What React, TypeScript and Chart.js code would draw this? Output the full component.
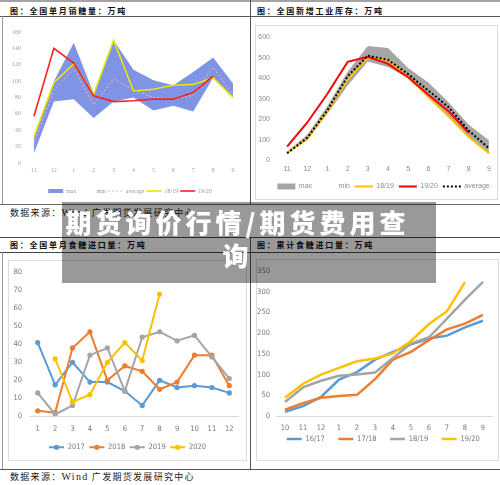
import React, { useEffect, useRef } from 'react';
import { Chart, registerables } from 'chart.js';

Chart.register(...registerables);

// ---------- data ----------
const seasonMonths = ['11', '12', '1', '2', '3', '4', '5', '6', '7', '8', '9'];
const salesMax = [30, 100, 147, 85, 150, 114, 101, 95, 111, 129, 97];
const salesMin = [12, 75, 78, 55, 75, 80, 64, 70, 63, 104, 81];
const salesAvg = [24, 89, 115, 71, 103, 89, 80, 78, 83, 117, 83];
const sales1819 = [32, 98, 121, 84, 150, 88, 90, 95, 96, 104, 80];
const sales1920 = [57, 140, 122, 82, 75, 76, 78, 78, 86, 106, null];

const stockMax = [42, 125, 265, 432, 557, 548, 450, 380, 284, 174, 98];
const stockMin = [35, 100, 228, 365, 482, 455, 400, 305, 210, 110, 32];
const stockAvg = [35, 110, 245, 410, 510, 490, 420, 340, 260, 145, 60];
const stock1819 = [38, 105, 240, 395, 500, 490, 405, 310, 215, 115, 35];
const stock1920 = [68, 185, 325, 480, 505, 470, 405, 320, 240, 135, null];

const calMonths = ['1', '2', '3', '4', '5', '6', '7', '8', '9', '10', '11', '12'];
const imp2017 = [41, 17.5, 30, 19, 19, 14, 6, 20, 16, 17, 16, 13];
const imp2018 = [3, 2, 38, 47, 20, 28, 25, 15, 19, 34, 34, 17];
const imp2019 = [13, 1, 6, 34, 38, 14, 44, 47, 42, 45, 33, 21];
const imp2020 = [null, 32, 8, 12, 30, 41, 31, 68, null, null, null, null];

const cumMonths = ['10', '11', '12', '1', '2', '3', '4', '5', '6', '7', '8', '9'];
const cum1617 = [10, 24, 46, 88, 106, 136, 155, 173, 187, 194, 214, 230];
const cum1718 = [15, 31, 44, 48, 51, 89, 136, 155, 183, 209, 223, 244];
const cum1819 = [34, 69, 85, 97, 100, 105, 140, 175, 190, 235, 281, 324];
const cum1920 = [44, 78, 100, 116, 132, 139, 151, 181, 222, 253, 323, null];

// ---------- styles ----------
const BLUE = '#5b9bd5';
const ORANGE = '#ed7d31';
const GRAY = '#a5a5a5';
const GOLD = '#ffc000';
const CJK = '"Noto Sans CJK SC", sans-serif';
const SERIF = '"Liberation Serif", serif';
const SANS = '"Liberation Sans", Arial, sans-serif';
const NARROW = '"Liberation Sans Narrow", "DejaVu Sans Condensed", "Liberation Sans", sans-serif';

type Item = { text: string; kind: 'rect' | 'line' | 'none'; color: string; width?: number; dash?: number[] };

function buildOptions(o: any) {
  const tickFont = { size: o.tickSize, family: o.family };
  return {
    responsive: false,
    maintainAspectRatio: false,
    animation: false,
    events: [],
    layout: { padding: { top: o.padTop, right: o.padRight, bottom: o.padBottom || 0, left: 0 } },
    elements: { line: { tension: 0 } },
    plugins: {
      tooltip: { enabled: false },
      legend: {
        position: 'bottom',
        labels: {
          usePointStyle: true,
          pointStyleWidth: o.boxW,
          boxHeight: o.boxH,
          padding: o.legendPad,
          color: o.legendColor,
          font: { size: o.legendSize, family: o.family },
          generateLabels: () =>
            (o.items as Item[]).map((it, i) => ({
              text: it.text + (o.textPad || ''),
              datasetIndex: i,
              hidden: false,
              fontColor: o.legendColor,
              pointStyle: it.kind === 'line' ? 'line' : 'rect',
              fillStyle: it.kind === 'none' ? 'rgba(0,0,0,0)' : it.color,
              strokeStyle: it.kind === 'none' ? 'rgba(0,0,0,0)' : it.color,
              lineWidth: it.kind === 'line' ? it.width ?? 2 : 0,
              lineDash: it.dash ?? [],
            })),
        },
      },
    },
    scales: {
      x: {
        offset: true,
        grid: { display: false, drawTicks: false },
        border: o.xBorder ? { display: true, color: o.xBorder, width: 1 } : { display: false },
        ticks: { font: tickFont, color: o.tickColor, padding: o.xPad, maxRotation: 0, autoSkip: false },
        afterFit: (s: any) => {
          s.height = o.xHeight;
        },
      },
      y: {
        min: o.yMin,
        max: o.yMax,
        grid: { display: false, drawTicks: false },
        border: { display: false },
        ticks: { stepSize: o.yStep, font: tickFont, color: o.tickColor, padding: o.yPad },
        afterFit: (s: any) => {
          s.width = o.yWidth;
        },
      },
    },
  };
}

// moves the (centred) legend sideways after layout
const shiftLegend = (dx: number) => ({
  id: 'shiftLegend',
  afterLayout(chart: any) {
    const lg = chart.legend;
    if (lg) {
      lg.left += dx;
      lg.right += dx;
    }
  },
});

const importColors = [BLUE, ORANGE, GRAY, GOLD];
const legendMarkers = {
  id: 'legendMarkers',
  afterDraw(chart: any) {
    const lg = chart.legend;
    if (!lg || !lg.legendHitBoxes) return;
    const ctx = chart.ctx;
    lg.legendHitBoxes.forEach((hb: any, i: number) => {
      ctx.save();
      ctx.fillStyle = importColors[i];
      ctx.beginPath();
      ctx.arc(hb.left + 7.5, hb.top + hb.height / 2, 2.6, 0, Math.PI * 2);
      ctx.fill();
      ctx.restore();
    });
  },
};

function salesConfig(): any {
  return {
    type: 'line',
    data: {
      labels: seasonMonths,
      datasets: [
        { label: 'max', data: salesMax, borderWidth: 0, pointRadius: 0, backgroundColor: '#7f94e4', fill: '+1', order: 4 },
        { label: 'min', data: salesMin, borderWidth: 0, pointRadius: 0, fill: false, order: 4 },
        { label: 'average', data: salesAvg, borderColor: '#f0b4c2', borderWidth: 1, borderDash: [2, 2], pointRadius: 0, fill: false, order: 3 },
        { label: '18/19', data: sales1819, borderColor: '#e9e600', borderWidth: 1.6, pointRadius: 0, fill: false, order: 2 },
        { label: '19/20', data: sales1920, borderColor: '#ff1f1f', borderWidth: 1.6, pointRadius: 0, fill: false, order: 1 },
      ],
    },
    options: buildOptions({
      family: SERIF, tickSize: 6, tickColor: '#a0a0a0',
      padTop: 14, padRight: 6, yWidth: 21, yPad: 3, xPad: 3.4, xHeight: 23,
      yMin: 0, yMax: 160, yStep: 20,
      legendSize: 6, legendPad: 2, legendColor: '#999', boxW: 15, boxH: 4,
      items: [
        { text: 'max', kind: 'rect', color: '#7f94e4' },
        { text: 'min', kind: 'none', color: '#fff' },
        { text: 'average', kind: 'line', color: '#f0b4c2', width: 1, dash: [2, 2] },
        { text: '18/19', kind: 'line', color: '#e9e600', width: 1.6 },
        { text: '19/20', kind: 'line', color: '#ff1f1f', width: 1.6 },
      ],
    }),
    plugins: [shiftLegend(7)],
  };
}

function stockConfig(): any {
  return {
    type: 'line',
    data: {
      labels: seasonMonths,
      datasets: [
        { label: 'max', data: stockMax, borderWidth: 0, pointRadius: 0, backgroundColor: '#a6a6a6', fill: '+1', order: 4 },
        { label: 'min', data: stockMin, borderWidth: 0, pointRadius: 0, fill: false, order: 4 },
        { label: '18/19', data: stock1819, borderColor: GOLD, borderWidth: 2, pointRadius: 0, fill: false, order: 3 },
        { label: '19/20', data: stock1920, borderColor: '#ff0000', borderWidth: 2, pointRadius: 0, fill: false, order: 2 },
        { label: 'average', data: stockAvg, borderColor: '#000', borderWidth: 2, borderDash: [2, 2], pointRadius: 0, fill: false, order: 1 },
      ],
    },
    options: buildOptions({
      family: SANS, tickSize: 7, tickColor: '#8c8c8c',
      padTop: 7, padRight: 0, yWidth: 21, yPad: 7, xPad: 4.8, xHeight: 17.5,
      yMin: 0, yMax: 600, yStep: 100,
      legendSize: 7, legendPad: 5, legendColor: '#8c8c8c', boxW: 18, boxH: 6,
      items: [
        { text: 'max', kind: 'rect', color: '#a6a6a6' },
        { text: 'min', kind: 'none', color: '#fff' },
        { text: '18/19', kind: 'line', color: GOLD, width: 2 },
        { text: '19/20', kind: 'line', color: '#ff0000', width: 2 },
        { text: 'average', kind: 'line', color: '#000', width: 2, dash: [2, 2] },
      ],
    }),
    plugins: [shiftLegend(6)],
  };
}

function importConfig(): any {
  const ds = (label: string, data: any[], color: string, order: number) => ({
    label, data, borderColor: color, backgroundColor: color, borderWidth: 2,
    pointRadius: 2.6, pointBorderWidth: 0, pointBackgroundColor: color, fill: false, order,
  });
  return {
    type: 'line',
    data: {
      labels: calMonths,
      datasets: [
        ds('2017', imp2017, BLUE, 3),
        ds('2018', imp2018, ORANGE, 2),
        ds('2019', imp2019, GRAY, 1),
        ds('2020', imp2020, GOLD, 0),
      ],
    },
    options: buildOptions({
      family: NARROW, tickSize: 7.5, tickColor: '#777',
      padTop: 10, padRight: 8, yWidth: 20, yPad: 7, xPad: 7.8, xHeight: 22.75,
      yMin: 0, yMax: 80, yStep: 10, xBorder: '#d9d9d9',
      legendSize: 7.5, legendPad: 4.5, legendColor: '#777', boxW: 15, boxH: 7,
      items: [
        { text: '2017', kind: 'line', color: BLUE, width: 2 },
        { text: '2018', kind: 'line', color: ORANGE, width: 2 },
        { text: '2019', kind: 'line', color: GRAY, width: 2 },
        { text: '2020', kind: 'line', color: GOLD, width: 2 },
      ],
    }),
    plugins: [shiftLegend(4), legendMarkers],
  };
}

function cumConfig(): any {
  const ds = (label: string, data: any[], color: string, order: number) => ({
    label, data, borderColor: color, backgroundColor: color, borderWidth: 2.5, pointRadius: 0, fill: false, order,
  });
  return {
    type: 'line',
    data: {
      labels: cumMonths,
      datasets: [
        ds('16/17', cum1617, BLUE, 3),
        ds('17/18', cum1718, ORANGE, 2),
        ds('18/19', cum1819, GRAY, 1),
        ds('19/20', cum1920, GOLD, 0),
      ],
    },
    options: buildOptions({
      family: NARROW, tickSize: 7.5, tickColor: '#777',
      padTop: 11, padRight: 7, padBottom: 7.25, yWidth: 19, yPad: 6, xPad: 7.8, xHeight: 17.25,
      yMin: 0, yMax: 350, yStep: 50, xBorder: '#d9d9d9',
      legendSize: 7.5, legendPad: 2, legendColor: '#777', boxW: 15, boxH: 7,
      textPad: '\u2003\u2002\u2009',
      items: [
        { text: '16/17', kind: 'line', color: BLUE, width: 2.5 },
        { text: '17/18', kind: 'line', color: ORANGE, width: 2.5 },
        { text: '18/19', kind: 'line', color: GRAY, width: 2.5 },
        { text: '19/20', kind: 'line', color: GOLD, width: 2.5 },
      ],
    }),
    plugins: [shiftLegend(14.5)],
  };
}

function ChartCanvas(props: { left: number; top: number; width: number; height: number; build: () => any }) {
  const ref = useRef<HTMLCanvasElement>(null);
  useEffect(() => {
    const chart = new Chart(ref.current as HTMLCanvasElement, props.build());
    return () => chart.destroy();
  }, []);
  return (
    <canvas
      ref={ref}
      width={props.width}
      height={props.height}
      style={{ position: 'absolute', left: props.left, top: props.top, width: props.width, height: props.height }}
    />
  );
}

const HLine = ({ y, x1 = 0, x2 = 500, color = '#555', h = 1 }: any) => (
  <div style={{ position: 'absolute', left: x1, top: y, width: x2 - x1, height: h, background: color }} />
);
const VLine = ({ x, y1, y2, color = '#555', w = 1 }: any) => (
  <div style={{ position: 'absolute', left: x, top: y1, width: w, height: y2 - y1, background: color }} />
);
const Frame = ({ l, t, w, h }: any) => (
  <div style={{ position: 'absolute', left: l, top: t, width: w, height: h, border: '1px solid #dcdcdc', boxSizing: 'border-box' }} />
);
const Title = ({ x, y, text }: any) => (
  <div
    style={{
      position: 'absolute', left: x, top: y, fontFamily: CJK, fontWeight: 700, fontSize: 8,
      letterSpacing: 1.75, lineHeight: '11px', color: '#111', whiteSpace: 'nowrap',
    }}
  >
    {text}
  </div>
);
const Source = ({ y }: any) => (
  <div
    style={{
      position: 'absolute', left: 10, top: y, fontFamily: CJK, fontSize: 9, letterSpacing: 1.3,
      lineHeight: '12px', color: '#222', whiteSpace: 'nowrap',
    }}
  >
    数据来源：<span style={{ fontFamily: SERIF, fontSize: 10 }}>Wind</span> 广发期货发展研究中心
  </div>
);

export default function App() {
  return (
    <div style={{ position: 'fixed', left: 0, top: 0, width: 500, height: 485, background: '#fff', overflow: 'hidden' }}>
      {/* frames */}
      <Frame l={255} t={25} w={243} h={175} />
      <Frame l={8} t={260} w={239} h={201} />
      <Frame l={256} t={259} w={243} h={202} />

      {/* charts */}
      <ChartCanvas left={3} top={18} width={246} height={186} build={salesConfig} />
      <ChartCanvas left={256} top={26} width={243} height={174} build={stockConfig} />
      <ChartCanvas left={9} top={261} width={237} height={200} build={importConfig} />
      <ChartCanvas left={257} top={260} width={242} height={200} build={cumConfig} />

      {/* rules */}
      <HLine y={0} h={2} color="#a3a3a3" />
      <HLine y={16} color="#555" />
      <VLine x={250} y1={0} y2={204} color="#555" />
      <VLine x={2} y1={16} y2={204} color="#999" />
      <HLine y={204} color="#666" />
      <HLine y={237} color="#444" />
      <HLine y={252} color="#444" />
      <VLine x={250} y1={237} y2={469} color="#555" />
      <VLine x={2} y1={252} y2={469} color="#999" />
      <HLine y={469} color="#555" />

      {/* titles */}
      <Title x={10} y={4.5} text="图：全国单月销糖量：万吨" />
      <Title x={257} y={4.5} text="图：全国新增工业库存：万吨" />
      <Title x={10} y={238.5} text="图：全国单月食糖进口量：万吨" />
      <Title x={257} y={238.5} text="图：累计食糖进口量：万吨" />
      <Source y={207} />
      <Source y={471} />

      {/* banner */}
      <div style={{ position: 'absolute', left: 62, top: 202, width: 374, height: 81, background: 'rgba(0,0,0,0.4)' }} />
      <div
        style={{
          position: 'absolute', left: 65, top: 205, width: 345, fontFamily: CJK, fontWeight: 900, fontSize: 26,
          letterSpacing: 4, lineHeight: '33px', color: '#fff', textAlign: 'center',
        }}
      >
        期货询价行情/期货费用查询
      </div>
    </div>
  );
}
